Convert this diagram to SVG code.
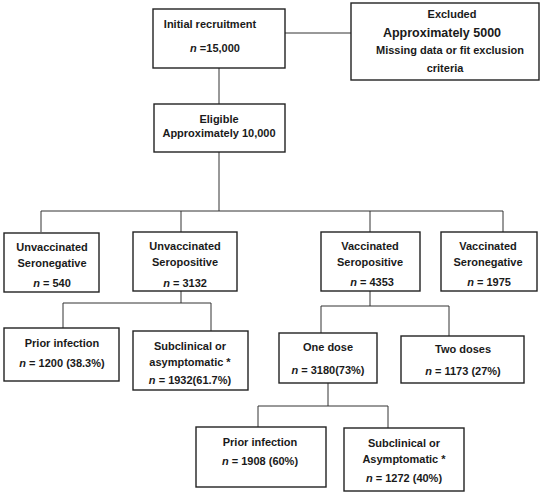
<svg xmlns="http://www.w3.org/2000/svg" width="550" height="493" viewBox="0 0 550 493">
<style>
.box{fill:#fff;stroke:#222;stroke-width:1.4}
.ln{fill:none;stroke:#333;stroke-width:1}
text{font-family:"Liberation Sans",Arial,sans-serif;font-weight:bold;font-size:11px;fill:#1a1a1a;text-anchor:middle}
.i{font-style:italic}
.big{font-size:12.5px}
</style>
<rect width="550" height="493" fill="#fff"/>
<g id="connectors">
<path class="ln" d="M285 33H351"/>
<path class="ln" d="M219 68V104"/>
<path class="ln" d="M219 152V211"/>
<path class="ln" d="M41 211H503"/>
<path class="ln" d="M41 211V232M181 211V232M370 211V232M503 211V232"/>
<path class="ln" d="M181 291V303M63 303H211M63 303V328M211 303V331"/>
<path class="ln" d="M370 291V306M321 306H449M321 306V333M449 306V336"/>
<path class="ln" d="M328 383V406M258 406H388M258 406V427M388 406V428"/>
</g>
<g id="initial">
<rect class="box" x="153" y="9" width="132" height="59"/>
<text x="210" y="28">Initial recruitment</text>
<text x="215" y="52"><tspan class="i">n</tspan> =15,000</text>
</g>
<g id="excluded">
<rect class="box" x="351" y="3" width="188" height="77"/>
<text x="452" y="18">Excluded</text>
<text x="442" y="37" class="big">Approximately 5000</text>
<text x="450" y="54">Missing data or fit exclusion</text>
<text x="445" y="72">criteria</text>
</g>
<g id="eligible">
<rect class="box" x="154" y="104" width="131" height="48"/>
<text x="219" y="123">Eligible</text>
<text x="219" y="137">Approximately 10,000</text>
</g>
<g id="unvacc-seroneg">
<rect class="box" x="4" y="233" width="95" height="59"/>
<text x="52" y="251">Unvaccinated</text>
<text x="52" y="267">Seronegative</text>
<text x="52" y="287"><tspan class="i">n</tspan> = 540</text>
</g>
<g id="unvacc-seropos">
<rect class="box" x="133" y="232" width="104" height="59"/>
<text x="185" y="250">Unvaccinated</text>
<text x="185" y="266">Seropositive</text>
<text x="185" y="287"><tspan class="i">n</tspan> = 3132</text>
</g>
<g id="vacc-seropos">
<rect class="box" x="321" y="232" width="99" height="59"/>
<text x="370" y="250">Vaccinated</text>
<text x="370" y="266">Seropositive</text>
<text x="372" y="286"><tspan class="i">n</tspan>  = 4353</text>
</g>
<g id="vacc-seroneg">
<rect class="box" x="441" y="232" width="96" height="59"/>
<text x="488" y="250">Vaccinated</text>
<text x="488" y="266">Seronegative</text>
<text x="489" y="286"><tspan class="i">n</tspan>  = 1975</text>
</g>
<g id="prior-unvacc">
<rect class="box" x="4" y="328" width="115" height="53"/>
<text x="62" y="347">Prior infection</text>
<text x="62" y="367"><tspan class="i">n</tspan> = 1200 (38.3%)</text>
</g>
<g id="subclinical-unvacc">
<rect class="box" x="133" y="331" width="115" height="59"/>
<text x="190" y="350">Subclinical or</text>
<text x="190" y="366">asymptomatic *</text>
<text x="190" y="384"><tspan class="i">n</tspan> = 1932(61.7%)</text>
</g>
<g id="one-dose">
<rect class="box" x="279" y="333" width="98" height="50"/>
<text x="328" y="351">One dose</text>
<text x="328" y="374"><tspan class="i">n</tspan> = 3180(73%)</text>
</g>
<g id="two-doses">
<rect class="box" x="401" y="336" width="123" height="47"/>
<text x="463" y="353">Two doses</text>
<text x="463" y="375"><tspan class="i">n</tspan> = 1173 (27%)</text>
</g>
<g id="prior-vacc">
<rect class="box" x="196" y="427" width="130" height="60"/>
<text x="260" y="446">Prior infection</text>
<text x="260" y="465"><tspan class="i">n</tspan> = 1908 (60%)</text>
</g>
<g id="subclinical-vacc">
<rect class="box" x="344" y="428" width="120" height="63"/>
<text x="404" y="447">Subclinical or</text>
<text x="404" y="463">Asymptomatic *</text>
<text x="404" y="482"><tspan class="i">n</tspan> = 1272 (40%)</text>
</g>
</svg>
